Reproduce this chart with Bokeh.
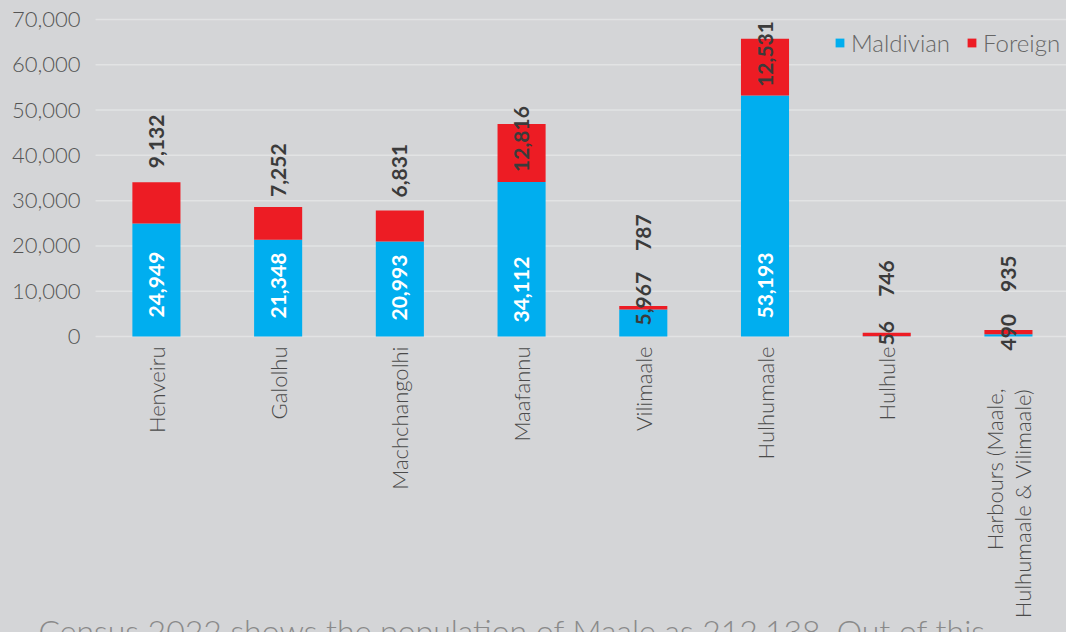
import math
from bokeh.plotting import figure
from bokeh.models import ColumnDataSource, Range1d, Label
from bokeh.core.properties import value
from bokeh.embed import file_html
from bokeh.resources import INLINE

# ---- data ----
districts = ["Henveiru", "Galolhu", "Machchangolhi", "Maafannu", "Vilimaale",
             "Hulhumaale", "Hulhule", "Harbours (Maale,\nHulhumaale & Vilimaale)"]
maldivian = [24949, 21348, 20993, 34112, 5967, 53193, 56, 490]
foreign = [9132, 7252, 6831, 12816, 787, 12531, 746, 935]
series = ["Maldivian", "Foreign"]
y_ticks = [0, 10000, 20000, 30000, 40000, 50000, 60000, 70000]
y_tick_labels = [f"{t:,}" for t in y_ticks]
caption = "Census 2022 shows the population of Maale as 212,138. Out of this,"

# ---- label nudges (pixels) ----
mald_lift = [19, 18, 16, 14, 11, 18, -9, -14]
for_lift = [14, 10, 13, -48, 55, -48, 36, 38]
cat_drop = [10, 10, 10, 10, 10, 10, 10, 52]

BLUE = "#00AEEF"
RED = "#ED1C24"
BG = "#d4d5d7"
GRID = "#e2e3e4"
DARK = "#3b3b3b"
LIGHT_FONT = "'Lato Light', Lato"

n = len(districts)
xs = list(range(n))
total = [m + f for m, f in zip(maldivian, foreign)]

X_START, X_END = -1.281, 7.477
BAND_LEFT = -0.5

src = ColumnDataSource(dict(
    x=xs,
    Maldivian=maldivian,
    Foreign=foreign,
    total=total,
    zero=[0] * n,
    mald_txt=[f"{v:,}" for v in maldivian],
    for_txt=[f"{v:,}" for v in foreign],
    mald_col=["white" if v >= 10000 else DARK for v in maldivian],
    mald_dy=[-v for v in mald_lift],
    for_dy=[-v for v in for_lift],
    cat=districts,
    cat_dy=cat_drop,
))
tick_src = ColumnDataSource(dict(
    y=y_ticks,
    label=y_tick_labels,
    x0=[BAND_LEFT] * len(y_ticks),
    x1=[X_END] * len(y_ticks),
    xl=[X_START] * len(y_ticks),
))

p = figure(width=1066, height=632,
           x_range=Range1d(X_START, X_END), y_range=Range1d(-65363, 74196),
           output_backend="svg", toolbar_location=None,
           x_axis_location=None, y_axis_location=None,
           min_border_left=0, min_border_right=0, min_border_top=0, min_border_bottom=0)
p.background_fill_color = BG
p.border_fill_color = BG
p.outline_line_color = None
p.styles = {"background-color": BG}
p.grid.visible = False

# value-axis gridlines and tick labels
p.segment(x0="x0", x1="x1", y0="y", y1="y", source=tick_src,
          line_color=GRID, line_width=1.5, level="underlay")
p.text(x="xl", y="y", text="label", source=tick_src, x_offset=80,
       text_align="right", text_baseline="middle", text_color="#555555",
       text_font=value(LIGHT_FONT), text_font_size="22px")

p.vbar_stack(series, x="x", width=0.395, color=[BLUE, RED], source=src,
             legend_label=series, line_color=None)

# value labels
p.text(x="x", y="zero", text="mald_txt", source=src, angle=math.pi / 2,
       text_align="left", text_baseline="middle", y_offset="mald_dy",
       text_color="mald_col", text_font=value("Lato"), text_font_style="bold",
       text_font_size="21px")
p.text(x="x", y="total", text="for_txt", source=src, angle=math.pi / 2,
       text_align="left", text_baseline="middle", y_offset="for_dy",
       text_color=DARK, text_font=value("Lato"), text_font_style="bold",
       text_font_size="21px")

# category labels
p.text(x="x", y="zero", text="cat", source=src, angle=math.pi / 2,
       text_align="right", text_baseline="middle", y_offset="cat_dy",
       text_color="#4a4a4a", text_font=value(LIGHT_FONT), text_font_size="22px",
       text_line_height=1.05)

# series legend
lg = p.legend[0]
lg.orientation = "horizontal"
lg.location = (834, 575)
lg.background_fill_alpha = 0
lg.border_line_color = None
lg.label_text_font = LIGHT_FONT
lg.label_text_font_size = "24px"
lg.label_text_color = "#666666"
lg.glyph_width = 11
lg.glyph_height = 11
lg.label_standoff = 6
lg.spacing = 16
lg.padding = 0
lg.margin = 0

# caption line of the source page (cut off at the bottom edge)
p.add_layout(Label(x=38, y=2, x_units="screen", y_units="screen", text=caption,
                   text_font=LIGHT_FONT, text_font_size="32px",
                   text_color="#8a8a8a", text_baseline="alphabetic"))

open("out.html", "w").write(file_html(p, INLINE))
